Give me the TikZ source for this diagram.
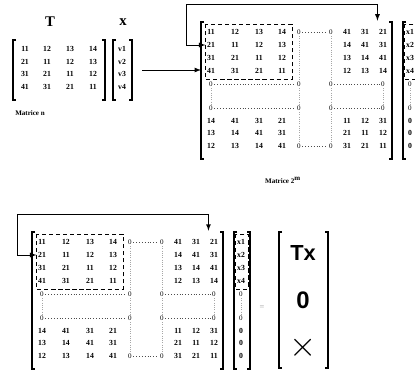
\documentclass[tikz,border=0pt]{standalone}
\usepackage{fontspec}
\setmainfont{Liberation Serif}
\newfontfamily\resfont{Liberation Sans}
\usetikzlibrary{arrows}

% square brackets: left x, right x, top y, bottom y
\newcommand{\brackets}[4]{%
  \draw[brak] (#1+3,#3) -- (#1,#3) -- (#1,#4) -- (#1+3,#4);
  \draw[brak] (#2-3,#3) -- (#2,#3) -- (#2,#4) -- (#2-3,#4);
}

% circulant matrix of size 2^m with its vector: prefix, shift x, shift y
\newcommand{\circmat}[3]{%
 \begin{scope}[shift={(#2,#3)}]
   \foreach \r/\yp/\va/\vb/\vc/\vd/\ve/\vf/\vg in {
     1/32/11/12/13/14/41/31/21, 2/45/21/11/12/13/14/41/31,
     3/58/31/21/11/12/13/14/41, 4/71/41/31/21/11/12/13/14,
     7/121/14/41/31/21/11/12/31, 8/133/13/14/41/31/21/11/12,
     9/146/12/13/14/41/31/21/11
   } {
     \foreach \k/\xp/\v in {1/211/\va, 2/235/\vb, 3/259/\vc, 4/282/\vd,
       5/347/\ve, 6/365/\vf, 7/383/\vg}
       \node[ent] (#1-\r-\k) at (\xp,\yp) {\v};
   }
   % zero blocks
   \node[zer] (#1-1-m) at (299,32) {0};
   \node[zer] (#1-1-n) at (331,32) {0};
   \node[zer] (#1-9-m) at (299,146) {0};
   \node[zer] (#1-9-n) at (331,146) {0};
   \foreach \r/\yp in {5/84, 6/108} {
     \node[zer] (#1-\r-1) at (211,\yp) {0};
     \node[zer] (#1-\r-m) at (299,\yp) {0};
     \node[zer] (#1-\r-n) at (331,\yp) {0};
     \node[zer] (#1-\r-7) at (383,\yp) {0};
     \draw[hdots] (#1-\r-1) -- (#1-\r-m);
     \draw[hdots] (#1-\r-n) -- (#1-\r-7);
   }
   \draw[hdots] (#1-1-m) -- (#1-1-n);
   \draw[hdots] (#1-9-m) -- (#1-9-n);
   \draw[vdots] (#1-1-m) -- (#1-5-m) -- (#1-6-m) -- (#1-9-m);
   \draw[vdots] (#1-1-n) -- (#1-5-n) -- (#1-6-n) -- (#1-9-n);
   \draw[vdots] (#1-5-1) -- (#1-6-1);
   \draw[vdots] (#1-5-7) -- (#1-6-7);
   % vector
   \foreach \r/\yp in {1/32, 2/45, 3/58, 4/71}
     \node[ent] (#1-x\r) at (410,\yp) {x\r};
   \node[zer] (#1-x5) at (410,84) {0};
   \node[zer] (#1-x6) at (410,108) {0};
   \draw[vdots] (#1-x5) -- (#1-x6);
   \foreach \r/\yp in {7/121, 8/133, 9/146}
     \node[ent] (#1-x\r) at (410,\yp) {0};
   \draw[dbox] (205,24) rectangle (292,79);
   \draw[dbox] (404,24) rectangle (417,79);
   \brackets{201}{392}{22}{159}
   \brackets{403}{419}{22}{159}
   % wrap around
   \coordinate (#1-loop) at (186,4);
   \coordinate (#1-in) at (201,70);
   \draw[fb] (#1-1-7.north west) |- (#1-loop) |- (#1-2-1.west);
 \end{scope}
}

\begin{document}
\begin{tikzpicture}[x=0.025cm,y=-0.025cm,
  ent/.style={font=\fontsize{5.5}{6}\selectfont\bfseries, inner sep=1pt},
  zer/.style={font=\fontsize{5}{6}\selectfont, inner sep=1pt},
  title/.style={font=\fontsize{10.5}{12}\selectfont\bfseries},
  lbl/.style={font=\fontsize{5}{6}\selectfont\bfseries},
  brak/.style={line width=1pt},
  dbox/.style={line width=0.6pt, dash pattern=on 3pt off 2pt},
  hdots/.style={draw=black!70, line width=0.4pt, dash pattern=on 0.5pt off 1.5pt},
  vdots/.style={draw=black!35, line width=0.6pt, dash pattern=on 0.8pt off 0.8pt},
  fb/.style={line width=0.6pt, latex-latex, shorten <=5pt},
  arr/.style={line width=0.6pt, -latex}]
 \useasboundingbox (0,0) rectangle (415,373);
 \clip (0,0) rectangle (415,373);

 % matrix T and vector x
 \node[title] (tname) at (50,22) {T};
 \node[title] (xname) at (123,22) {x};
 \foreach \r/\yp/\va/\vb/\vc/\vd in {
   1/49/11/12/13/14, 2/62/21/11/12/13,
   3/74/31/21/11/12, 4/87/41/31/21/11
 } {
   \foreach \k/\xp/\v in {1/25/\va, 2/47/\vb, 3/70/\vc, 4/93/\vd}
     \node[ent] (t-\r-\k) at (\xp,\yp) {\v};
   \node[ent] (v-\r) at (122,\yp) {v\r};
 }
 \brackets{13}{105}{40}{100}
 \brackets{113}{132}{40}{100}
 \node[lbl] (tlbl) at (30,113) {Matrice n};

 \circmat{a}{0}{0}
 \node[lbl] (albl) at (283,180) {Matrice 2$^{\mathbf{m}}$};
 \coordinate (go) at (142,70);
 \draw[arr] (go) -- (a-in);

 \circmat{b}{-169}{210}

 % result
 \node[font=\fontsize{6}{6}\selectfont, text=black!40] (eq) at (262,308) {=};
 \brackets{279}{328}{232}{368}
 \node[font=\resfont\fontsize{15.5}{16}\selectfont\bfseries] (rtx) at (303,253) {Tx};
 \node[font=\resfont\fontsize{17}{17}\selectfont\bfseries] (rzero) at (303,300) {0};
 \node[font=\fontsize{23}{23}\selectfont] (rcross) at (303,348) {$\times$};
\end{tikzpicture}
\end{document}
